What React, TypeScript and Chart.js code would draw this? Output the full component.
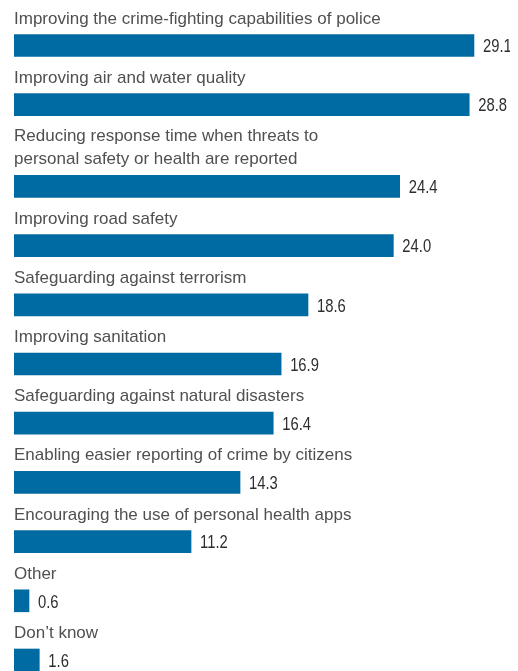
import React, { useEffect, useRef } from "react";
import { Chart, registerables } from "chart.js";

Chart.register(...registerables);

// ---- data ----
const categories: string[][] = [
  ["Improving the crime-fighting capabilities of police"],
  ["Improving air and water quality"],
  ["Reducing response time when threats to", "personal safety or health are reported"],
  ["Improving road safety"],
  ["Safeguarding against terrorism"],
  ["Improving sanitation"],
  ["Safeguarding against natural disasters"],
  ["Enabling easier reporting of crime by citizens"],
  ["Encouraging the use of personal health apps"],
  ["Other"],
  ["Don\u2019t know"],
];
const values: number[] = [29.1, 28.8, 24.4, 24.0, 18.6, 16.9, 16.4, 14.3, 11.2, 0.6, 1.6];
const valueLabels: string[] = values.map((v) => v.toFixed(1));

// ---- layout constants ----
const W = 510;
const H = 663;
const ROW_PX = 59.2; // height of a one-line row
const LINE_PX = 22.5; // extra height per extra label line
const X_MAX = 31;
const BAR_COLOR = "#006ba2";
const LABEL_COLOR = "#505050";
const VALUE_COLOR = "#2e2e2e";
const LABEL_FONT = "17px 'Liberation Sans', Arial, sans-serif";
const VALUE_FONT = "18.5px 'Liberation Sans', Arial, sans-serif";
const VALUE_SQUEEZE = 0.8;

// row positions in row units, shifted by extra label lines (label sits above its bar)
const positions: number[] = (() => {
  let extra = 0;
  return categories.map((lines, i) => {
    extra += lines.length - 1;
    return i + (extra * LINE_PX) / ROW_PX;
  });
})();

const Y_MIN = -((45.5 - 8) / ROW_PX);
const Y_MAX = Y_MIN + H / ROW_PX;

const labelPlugin = {
  id: "barLabels",
  afterDatasetsDraw(chart: any) {
    const ctx = chart.ctx as CanvasRenderingContext2D;
    const meta = chart.getDatasetMeta(0);
    ctx.save();
    meta.data.forEach((bar: any, i: number) => {
      const top = bar.y - 11;
      const lines = categories[i];
      ctx.font = LABEL_FONT;
      ctx.fillStyle = LABEL_COLOR;
      ctx.textAlign = "left";
      ctx.textBaseline = "alphabetic";
      const lastBase = top - 11;
      lines.forEach((ln, k) => {
        const y = lastBase - (lines.length - 1 - k) * 23.3;
        ctx.fillText(ln, bar.base, y);
      });
      ctx.save();
      ctx.font = VALUE_FONT;
      ctx.fillStyle = VALUE_COLOR;
      ctx.translate(bar.x + 9, bar.y + 6.7);
      ctx.scale(VALUE_SQUEEZE, 1);
      ctx.fillText(valueLabels[i], 0, 0);
      ctx.restore();
    });
    ctx.restore();
  },
};

export default function App() {
  const ref = useRef<HTMLCanvasElement | null>(null);
  useEffect(() => {
    if (!ref.current) return;
    const chart = new Chart(ref.current, {
      type: "bar",
      data: {
        datasets: [
          {
            data: values.map((v, i) => ({ x: v, y: positions[i] })),
            backgroundColor: BAR_COLOR,
            borderWidth: 0,
            barThickness: 22,
            minBarLength: 15,
          } as any,
        ],
      },
      options: {
        indexAxis: "y",
        animation: false,
        responsive: false,
        events: [],
        layout: { padding: { left: 6, right: 14, top: 0, bottom: 0 } },
        plugins: { legend: { display: false }, tooltip: { enabled: false } },
        scales: {
          x: { type: "linear", min: 0, max: X_MAX, display: false, offset: false },
          y: { type: "linear", min: Y_MIN, max: Y_MAX, reverse: true, display: false, offset: false },
        },
      },
      plugins: [labelPlugin],
    });
    return () => chart.destroy();
  }, []);
  return <canvas ref={ref} width={W} height={H} style={{ display: "block" }} />;
}
